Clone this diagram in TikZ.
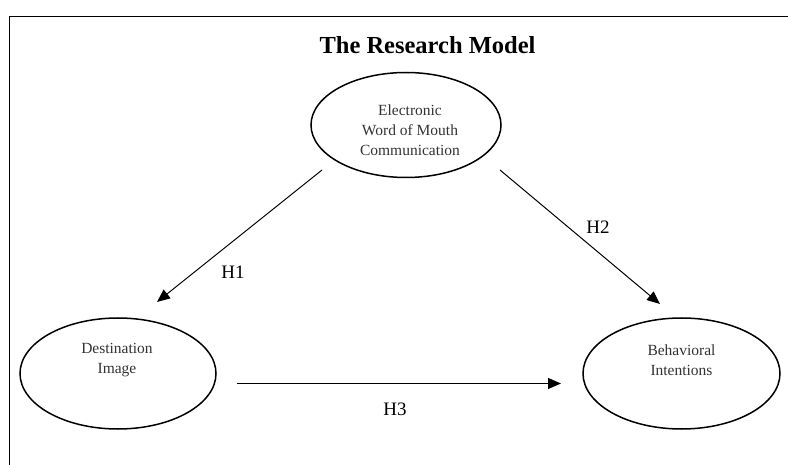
\documentclass[tikz,border=0pt]{standalone}
\usepackage{fontspec}
\setmainfont{Liberation Serif}
\usetikzlibrary{shapes.geometric,arrows.meta}
\begin{document}
\begin{tikzpicture}[x=1pt,y=-1pt,
  construct/.style={draw,ellipse,line width=1.5pt,inner sep=0pt},
  ctext/.style={align=center,font=\fontsize{15.5}{20}\selectfont,text=black!80},
  path/.style={line width=1pt,-{Triangle[length=13pt,width=11pt]}},
  hyp/.style={font=\fontsize{19}{22}\selectfont}]
  \useasboundingbox (0,0) rectangle (788,465);
  % frame
  \draw[line width=0.9pt] (9.5,465) -- (9.5,16) -- (788,16);
  % title
  \node[font=\bfseries\fontsize{24.5}{28}\selectfont] (title) at (427.5,45) {The Research Model};
  % constructs
  \node[construct,minimum width=190pt,minimum height=105pt] (ewom) at (406,125) {};
  \node[ctext] (ewomt) at (410,130) {Electronic\\Word of Mouth\\Communication};
  \node[construct,minimum width=196pt,minimum height=111pt] (di) at (118,373.5) {};
  \node[ctext] (dit) at (117,360) {Destination\\Image};
  \node[construct,minimum width=197pt,minimum height=111pt] (bi) at (681.5,373.5) {};
  \node[ctext] (bit) at (681.5,360) {Behavioral\\Intentions};
  % hypothesised paths
  \coordinate (h1s) at (322,170);
  \coordinate (h1e) at (157,302);
  \coordinate (h2s) at (500,170);
  \coordinate (h2e) at (660,304);
  \coordinate (h3s) at (237,383.5);
  \coordinate (h3e) at (561,383.5);
  \draw[path] (h1s) -- (h1e);
  \draw[path] (h2s) -- (h2e);
  \draw[path] (h3s) -- (h3e);
  \node[hyp] (h1) at (233,272) {H1};
  \node[hyp] (h2) at (598,227) {H2};
  \node[hyp] (h3) at (395,409) {H3};
\end{tikzpicture}
\end{document}
